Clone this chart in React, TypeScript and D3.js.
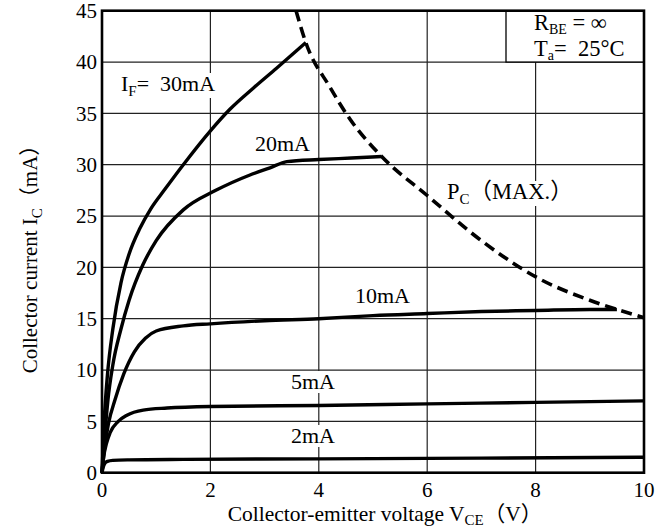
import React, { useEffect, useRef } from "react";
import * as d3 from "d3";

const vTicks = [0, 2, 4, 6, 8, 10];
const iTicks = [0, 5, 10, 15, 20, 25, 30, 35, 40, 45];

const v2mA = [0, 0.02, 0.05, 0.1, 0.2, 0.5, 1.5, 4, 7, 10];
const i2mA = [0, 0.5, 0.9, 1.1, 1.2, 1.25, 1.3, 1.35, 1.42, 1.5];

const v5mA = [0, 0.03, 0.08, 0.15, 0.3, 0.46, 0.76, 1.2, 2, 4, 6, 8, 10];
const i5mA = [0, 1.5, 2.8, 3.9, 5.0, 5.6, 6.1, 6.3, 6.45, 6.55, 6.7, 6.85, 7.0];

const v10mA = [0, 0.05, 0.12, 0.24, 0.4, 0.6, 0.8, 1.0, 1.5, 2, 3, 4, 5, 6, 7, 8, 9, 9.5];
const i10mA = [0, 2.5, 4.8, 7.1, 9.6, 11.8, 13.1, 13.8, 14.3, 14.5, 14.8, 15.0, 15.3, 15.5, 15.7, 15.8, 15.9, 15.9];

const v20mA = [0, 0.05, 0.11, 0.2, 0.35, 0.5, 0.75, 1.0, 1.5, 2.1, 2.73, 3.1, 3.41, 4, 4.6, 5.16];
const i20mA = [0, 3.5, 7.1, 10.5, 14, 16.8, 20.2, 22.6, 25.6, 27.5, 29.0, 29.7, 30.3, 30.5, 30.65, 30.8];

const v30mA = [0, 0.04, 0.1, 0.2, 0.35, 0.5, 0.7, 0.9, 1.16, 1.5, 2.0, 2.36, 2.8, 3.22, 3.76];
const i30mA = [0, 5, 9.5, 14, 18.5, 21.3, 23.8, 25.7, 27.6, 30.0, 33.3, 35.4, 37.5, 39.4, 41.9];

const vPc = [3.58, 3.76, 4.2, 4.58, 5.16, 6.0, 7.0, 8.1, 9.0, 10];
const iPc = [45, 41.9, 37.6, 34.4, 30.8, 27.0, 22.6, 18.8, 16.8, 15.1];

const FONT = "'Liberation Serif', 'Times New Roman', 'Noto Sans CJK JP', serif";

export default function App() {
  const ref = useRef<SVGSVGElement>(null);

  useEffect(() => {
    const svg = d3.select(ref.current);
    svg.selectAll("*").remove();
    const left = 102, right = 644, top = 10.7, bottom = 472.7;
    const x = d3.scaleLinear().domain([0, 10]).range([left, right]);
    const y = d3.scaleLinear().domain([0, 45]).range([bottom, top]);

    // grid
    const g = svg.append("g");
    g.selectAll("line.v").data(vTicks).enter().append("line")
      .attr("x1", d => x(d)).attr("x2", d => x(d)).attr("y1", top).attr("y2", bottom)
      .attr("stroke", "#222").attr("stroke-width", 1.2);
    g.selectAll("line.h").data(iTicks).enter().append("line")
      .attr("x1", left).attr("x2", right).attr("y1", d => y(d)).attr("y2", d => y(d))
      .attr("stroke", "#222").attr("stroke-width", 1.2);

    // legend box
    svg.append("rect").attr("x", 506).attr("y", top).attr("width", right - 506).attr("height", y(40) - top)
      .attr("fill", "#fff").attr("stroke", "#000").attr("stroke-width", 1.3);

    // tick labels
    svg.append("g").selectAll("text").data(vTicks).enter().append("text")
      .attr("x", d => x(d)).attr("y", 497).attr("text-anchor", "middle")
      .attr("font-family", FONT).attr("font-size", 21).text(d => d);
    svg.append("g").selectAll("text").data(iTicks).enter().append("text")
      .attr("x", 97).attr("y", d => y(d)).attr("dy", "0.35em").attr("text-anchor", "end")
      .attr("font-family", FONT).attr("font-size", 21).text(d => d);

    // labels with white backgrounds
    const label = (px: number, py: number, parts: [string, boolean][], fs = 22, subFs = 15, subDy = 5) => {
      const t = svg.append("text").attr("x", px).attr("y", py)
        .attr("font-family", FONT).attr("font-size", fs).style("white-space", "pre");
      let sub = false;
      parts.forEach(([s, isSub]) => {
        const ts = t.append("tspan").text(s);
        if (isSub) ts.attr("font-size", subFs);
        if (isSub && !sub) ts.attr("dy", subDy);
        else if (!isSub && sub) ts.attr("dy", -subDy);
        sub = isSub;
      });
      return t;
    };
    const labelsG: any[] = [];
    labelsG.push(label(121, 91, [["I", false], ["F", true], ["=  30mA", false]]));
    labelsG.push(label(255, 151, [["20mA", false]]));
    labelsG.push(label(355, 303, [["10mA", false]]));
    labelsG.push(label(291, 389, [["5mA", false]]));
    labelsG.push(label(291, 443, [["2mA", false]]));
    labelsG.push(label(447, 199, [["P", false], ["C", true], ["（MAX.）", false]], 22.5));
    labelsG.forEach(t => {
      const n = t.node() as SVGTextElement;
      const b = n.getBBox();
      svg.insert("rect", () => n).attr("x", b.x).attr("y", b.y + 2).attr("width", b.width).attr("height", b.height - 3).attr("fill", "#fff");
    });

    label(534, 30, [["R", false], ["BE", true], [" = ∞", false]], 22.5, 14, 4);
    label(534, 56, [["T", false], ["a", true], ["=  25°C", false]], 22.5, 14, 4);

    // curves
    const line = d3.line<[number, number]>().x(d => x(d[0])).y(d => y(d[1])).curve(d3.curveMonotoneX);
    const series: [number[], number[]][] = [[v2mA, i2mA], [v5mA, i5mA], [v10mA, i10mA], [v20mA, i20mA], [v30mA, i30mA]];
    series.forEach(([vs, is]) => {
      svg.append("path").attr("d", line(vs.map((v, k) => [v, is[k]] as [number, number])))
        .attr("fill", "none").attr("stroke", "#000").attr("stroke-width", 3.4).attr("stroke-linejoin", "round");
    });
    svg.append("path").attr("d", line(vPc.map((v, k) => [v, iPc[k]] as [number, number])))
      .attr("fill", "none").attr("stroke", "#000").attr("stroke-width", 3.6).attr("stroke-dasharray", "11,6");

    // frame
    svg.append("rect").attr("x", left).attr("y", top).attr("width", right - left).attr("height", bottom - top)
      .attr("fill", "none").attr("stroke", "#000").attr("stroke-width", 2.6);

    // axis titles
    const xt = svg.append("text").attr("x", 385).attr("y", 521).attr("text-anchor", "middle")
      .attr("font-family", FONT).attr("font-size", 21.5);
    xt.append("tspan").text("Collector-emitter voltage V");
    xt.append("tspan").text("CE").attr("font-size", 15).attr("dy", 4);
    xt.append("tspan").text("（V）").attr("dy", -4);

    const yt = svg.append("text").attr("transform", "translate(37,254) rotate(-90)").attr("text-anchor", "middle")
      .attr("font-family", FONT).attr("font-size", 21);
    yt.append("tspan").text("Collector current I");
    yt.append("tspan").text("C").attr("font-size", 15).attr("dy", 5);
    yt.append("tspan").text("（mA）").attr("dy", -5);
  }, []);

  return (
    <svg ref={ref} width={670} height={531} style={{ position: "absolute", left: 0, top: 0, background: "#fff" }} />
  );
}
